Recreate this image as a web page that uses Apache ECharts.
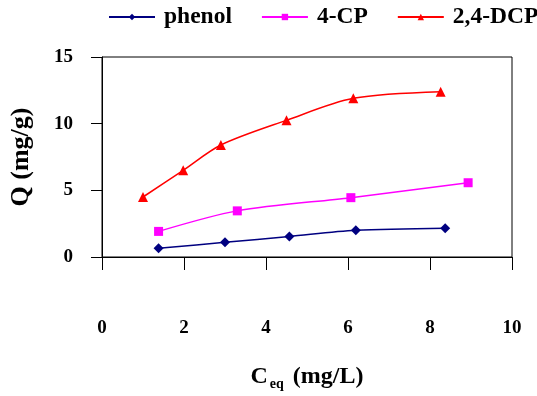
<!DOCTYPE html>
<html>
<head>
<meta charset="utf-8">
<script src="https://cdn.jsdelivr.net/npm/echarts@6/dist/echarts.min.js"></script>
<style>html,body{margin:0;padding:0;background:#fff}#c{width:537px;height:396px}</style>
</head>
<body>
<div id="c"></div>
<script>
var seriesNames = ['phenol', '4-CP', '2,4-DCP'];
var phenolX = [1.38, 3.0, 4.57, 6.19, 8.37];
var phenolY = [0.65, 1.1, 1.54, 2.0, 2.16];
var cp4X = [1.38, 3.3, 6.07, 8.93];
var cp4Y = [1.92, 3.46, 4.45, 5.57];
var dcpX = [1.0, 1.98, 2.9, 4.5, 6.13, 8.26];
var dcpY = [4.5, 6.5, 8.4, 10.25, 11.9, 12.4];
var xTicks = [0, 2, 4, 6, 8, 10];
var yTicks = [0, 5, 10, 15];

function pairs(xs, ys) { return xs.map(function (x, i) { return [x, ys[i]]; }); }

var font = 'Liberation Serif';
var chart = echarts.init(document.getElementById('c'));
chart.setOption({
  animation: false,
  backgroundColor: '#fff',
  textStyle: { fontFamily: font },
  legend: {
    data: seriesNames,
    left: 108, top: 5, padding: 0, width: 440,
    itemWidth: 46, itemHeight: 8, itemGap: 29,
    textStyle: { fontFamily: font, fontWeight: 'bold', fontSize: 23.5, color: '#000', padding: [0, 0, 0, 4] }
  },
  grid: { left: 102, right: 25, top: 57, bottom: 138, show: true, borderColor: '#000', borderWidth: 1 },
  xAxis: {
    type: 'value', min: xTicks[0], max: xTicks[xTicks.length - 1], interval: 2,
    name: 'C{s|eq} (mg/L)', nameLocation: 'middle', nameGap: 106,
    nameTextStyle: { fontFamily: font, fontWeight: 'bold', fontSize: 24, color: '#000',
      rich: { s: { fontFamily: font, fontWeight: 'bold', fontSize: 14, color: '#000', verticalAlign: 'bottom', padding: [14, 3, 0, 2] } } },
    axisLine: { lineStyle: { color: '#000', width: 1 } },
    axisTick: { length: 13, lineStyle: { color: '#000', width: 1 } },
    axisLabel: { margin: 62, fontFamily: font, fontWeight: 'bold', fontSize: 19, color: '#000' },
    splitLine: { show: false }
  },
  yAxis: {
    type: 'value', min: yTicks[0], max: yTicks[yTicks.length - 1], interval: 5,
    name: 'Q (mg/g)', nameLocation: 'middle', nameGap: 68,
    nameTextStyle: { fontFamily: font, fontWeight: 'bold', fontSize: 26, color: '#000' },
    axisLine: { lineStyle: { color: '#000', width: 1 } },
    axisTick: { length: 11, lineStyle: { color: '#000', width: 1 } },
    axisLabel: { margin: 29, fontFamily: font, fontWeight: 'bold', fontSize: 19, color: '#000' },
    splitLine: { show: false }
  },
  series: [
    { name: seriesNames[0], type: 'line', data: pairs(phenolX, phenolY), smooth: 0.3,
      symbol: 'diamond', symbolSize: 10, color: '#000080', lineStyle: { width: 1.5 } },
    { name: seriesNames[1], type: 'line', data: pairs(cp4X, cp4Y), smooth: 0.3,
      symbol: 'rect', symbolSize: 9, color: '#ff00ff', lineStyle: { width: 1.5 } },
    { name: seriesNames[2], type: 'line', data: pairs(dcpX, dcpY), smooth: 0.3,
      symbol: 'triangle', symbolSize: 10, color: '#ff0000', lineStyle: { width: 1.5 } }
  ]
});
</script>
</body>
</html>
